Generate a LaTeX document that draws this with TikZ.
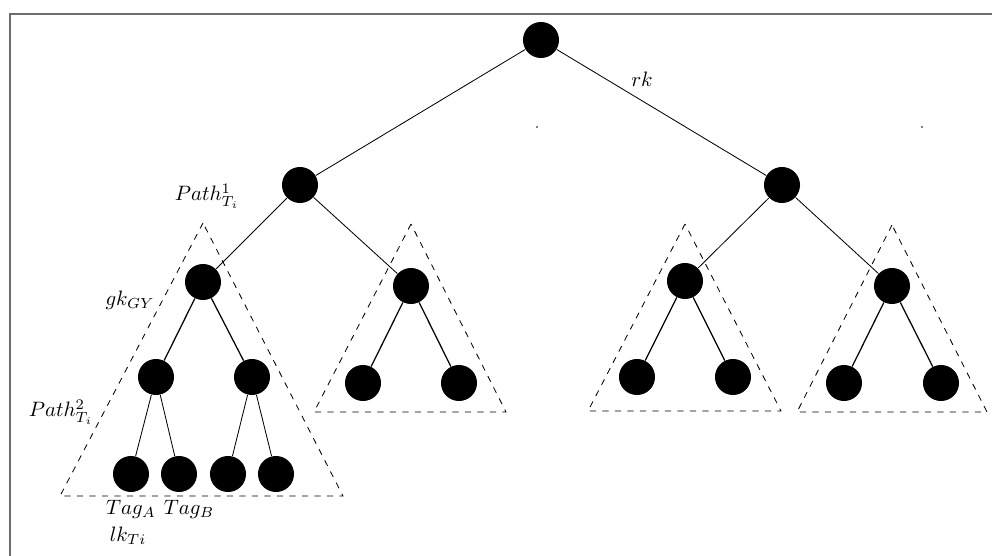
\documentclass[tikz,border=0pt]{standalone}
\begin{document}
\begin{tikzpicture}[x=0.48pt,y=-0.48pt,
	leaf/.style={circle,fill=black,inner sep=0pt,minimum size=17.3pt},
	tri/.style={dashed,thin},
	subedge/.style={semithick},
	speck/.style={circle,fill=black,inner sep=0pt,minimum size=0.9pt}]
		% frame
		\useasboundingbox (0,0) rectangle (992,556);
		\draw[gray!85!black, line width=0.8pt] (10,556) -- (10,14) -- (992,14);
		
		% nodes
		\node[leaf] (root) at (541,40) {};
		\node[leaf] (l) at (300,185) {};
		\node[leaf] (r) at (782,185) {};
		\node[leaf] (ll) at (203,282) {};
		\node[leaf] (lr) at (411,286) {};
		\node[leaf] (rl) at (685,281) {};
		\node[leaf] (rr) at (892,286) {};
		\node[leaf] (lll) at (156,377) {};
		\node[leaf] (llr) at (252,377) {};
		\node[leaf] (lrl) at (363,383) {};
		\node[leaf] (lrr) at (459,383) {};
		\node[leaf] (rll) at (637,377) {};
		\node[leaf] (rlr) at (733,377) {};
		\node[leaf] (rrl) at (844,383) {};
		\node[leaf] (rrr) at (941,383) {};
		\node[leaf] (tA) at (131,474) {};
		\node[leaf] (tB) at (179,474) {};
		\node[leaf] (tC) at (228,474) {};
		\node[leaf] (tD) at (276,474) {};
		
		% edges
		\draw (root) -- (l);
		\draw (root) -- (r);
		\draw (l) -- (ll);
		\draw (l) -- (lr);
		\draw (r) -- (rl);
		\draw (r) -- (rr);
		\draw[subedge] (ll) -- (lll);
		\draw[subedge] (ll) -- (llr);
		\draw[subedge] (lr) -- (lrl);
		\draw[subedge] (lr) -- (lrr);
		\draw[subedge] (rl) -- (rll);
		\draw[subedge] (rl) -- (rlr);
		\draw[subedge] (rr) -- (rrl);
		\draw[subedge] (rr) -- (rrr);
		\draw (lll) -- (tA);
		\draw (lll) -- (tB);
		\draw (llr) -- (tC);
		\draw (llr) -- (tD);
		
		% subtrees
		\draw[tri] (203,223) -- (60,496) -- (343,496) -- cycle;
		\draw[tri] (411,224) -- (314,412) -- (506,412) -- cycle;
		\draw[tri] (685,224) -- (588,411) -- (781,411) -- cycle;
		\draw[tri] (892,225) -- (797,412) -- (987,412) -- cycle;
		
		% labels
		\node (rk) at (642,79) {$rk$};
		\node (p1) at (207,196) {$Path^1_{T_i}$};
		\node (gk) at (130,300) {$gk_{GY}$};
		\node (p2) at (61,412) {$Path^2_{T_i}$};
		\node (tagA) at (131,509) {$Tag_A$};
		\node (tagB) at (189,509) {$Tag_B$};
		\node (lk) at (128,536) {$lk_{Ti}$};
		\node[speck] (s1) at (537,127) {};
		\node[speck] (s2) at (922,127) {};
		
	\end{tikzpicture}
\end{document}
